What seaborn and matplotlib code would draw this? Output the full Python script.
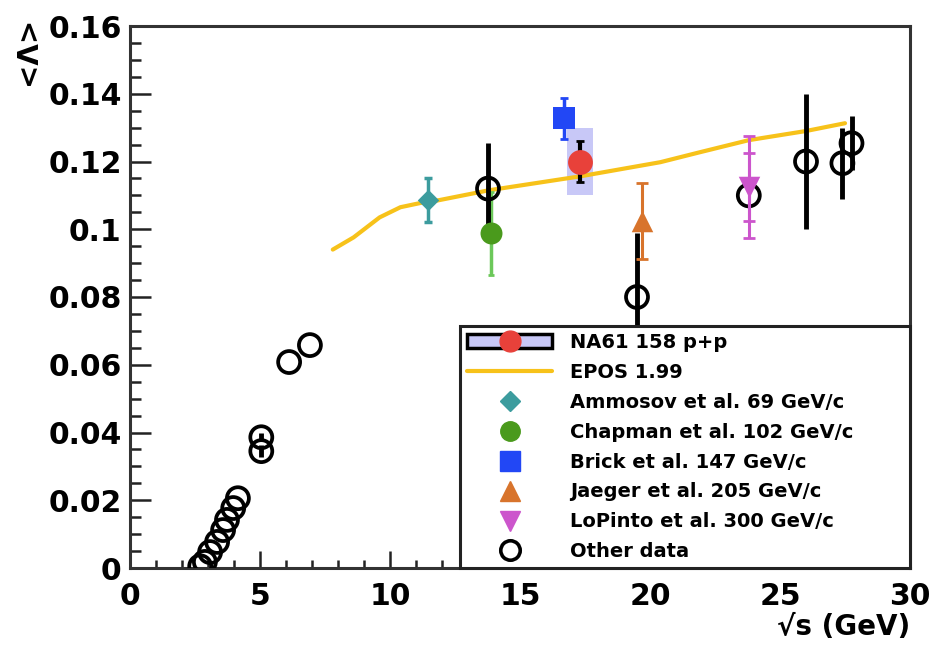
import numpy as np
import pandas as pd
import matplotlib
matplotlib.use("Agg")
import matplotlib.pyplot as plt
from matplotlib.lines import Line2D
from matplotlib.patches import Rectangle
from matplotlib.ticker import MultipleLocator, FixedLocator, FixedFormatter
import seaborn as sns

# ---------------- data ----------------
na61_x = [17.3]
na61_y = [0.120]
na61_stat = [0.006]
na61_sys = [0.010]

epos_x = [7.8, 8.6, 9.6, 10.4, 11.2, 11.5, 13.8, 17.3, 20.4, 21.9, 23.8, 26.0, 27.5]
epos_y = [0.094, 0.0976, 0.1035, 0.1065, 0.1078, 0.108, 0.1115, 0.1156, 0.1198, 0.1227, 0.1263, 0.129, 0.1313]

ammosov_x = [11.46]
ammosov_y = [0.1086]
ammosov_err = [0.0065]

chapman_x = [13.9]
chapman_y = [0.0988]
chapman_err = [0.0122]

brick_x = [16.7]
brick_y = [0.1327]
brick_err = [0.006]

jaeger_x = [19.7]
jaeger_y = [0.1025]
jaeger_err = [0.0112]

lopinto_x = [23.8]
lopinto_y = [0.1124]
lopinto_stat = [0.010]
lopinto_tot = [0.015]

other_x = [2.7, 2.88, 3.08, 3.35, 3.58, 3.73, 3.97, 4.15, 5.05, 5.05, 6.12, 6.92,
           13.77, 19.5, 23.8, 26.0, 27.4, 27.75]
other_y = [0.0005, 0.0018, 0.0047, 0.0077, 0.0112, 0.0142, 0.0177, 0.0206, 0.0386, 0.0345, 0.0608, 0.0658,
           0.112, 0.080, 0.110, 0.120, 0.1195, 0.1254]
other_err = [0, 0, 0, 0, 0, 0, 0, 0, 0.0012, 0.0018, 0, 0,
             0.0135, 0.019, 0.0, 0.020, 0.0105, 0.008]

xticks = [0, 5, 10, 15, 20, 25, 30]
xtick_labels = ["0", "5", "10", "15", "20", "25", "30"]
yticks = [0, 0.02, 0.04, 0.06, 0.08, 0.1, 0.12, 0.14, 0.16]
ytick_labels = ["0", "0.02", "0.04", "0.06", "0.08", "0.1", "0.12", "0.14", "0.16"]

legend_labels = ["NA61 158 p+p", "EPOS 1.99", "Ammosov et al. 69 GeV/c", "Chapman et al. 102 GeV/c",
                 "Brick et al. 147 GeV/c", "Jaeger et al. 205 GeV/c", "LoPinto et al. 300 GeV/c",
                 "Other data"]

# ---------------- style ----------------
sns.set_style("white")
plt.rcParams['font.family'] = ['DejaVu Sans']
plt.rcParams['font.weight'] = 'bold'

C_RED = "#e8413a"
C_BOX = "#c8c8f7"
C_EPOS = "#f7c21a"
C_TEAL = "#3c9c9e"
C_GREEN = "#4a9a1c"
C_GREEN_BAR = "#6cc85a"
C_BLUE = "#2247f5"
C_ORANGE = "#d8742c"
C_MAG = "#cc55cc"

fig = plt.figure(figsize=(9.35, 6.52), dpi=100)
ax = fig.add_axes([130 / 935, 1 - 568 / 652, 780 / 935, 542 / 652])

# NA61 systematic box
for x, y, s in zip(na61_x, na61_y, na61_sys):
    ax.fill_between([x - 0.5, x + 0.5], y - s, y + s, color=C_BOX, lw=0, zorder=1)

# EPOS line
epos_df = pd.DataFrame({"x": epos_x, "y": epos_y})
sns.lineplot(data=epos_df, x="x", y="y", ax=ax, color=C_EPOS, lw=3, zorder=2, sort=True)

# colored error bars (under the black ones)
ax.errorbar(chapman_x, chapman_y, yerr=chapman_err, fmt='none', ecolor=C_GREEN_BAR, elinewidth=2.5,
            capsize=2, capthick=2, zorder=2.5)

# Other data
ax.errorbar(other_x, other_y, yerr=other_err, fmt='none', ecolor='black', elinewidth=3.5, zorder=3)
other_df = pd.DataFrame({"x": other_x, "y": other_y})
sns.scatterplot(data=other_df, x="x", y="y", ax=ax, marker='o', s=250, facecolor='none',
                edgecolor='black', linewidth=2.7, zorder=4)

# colored data
ax.errorbar(ammosov_x, ammosov_y, yerr=ammosov_err, fmt='none', ecolor=C_TEAL, elinewidth=2.5,
            capsize=3, capthick=2.5, zorder=5)
sns.scatterplot(x=ammosov_x, y=ammosov_y, ax=ax, marker='D', s=120, color=C_TEAL, linewidth=0, zorder=6)

sns.scatterplot(x=chapman_x, y=chapman_y, ax=ax, marker='o', s=250, color=C_GREEN, linewidth=0, zorder=6)

ax.errorbar(brick_x, brick_y, yerr=brick_err, fmt='none', ecolor=C_BLUE, elinewidth=2.5,
            capsize=3, capthick=2, zorder=5)
sns.scatterplot(x=brick_x, y=brick_y, ax=ax, marker='s', s=240, color=C_BLUE, linewidth=0, zorder=6)

ax.errorbar(jaeger_x, jaeger_y, yerr=jaeger_err, fmt='none', ecolor=C_ORANGE, elinewidth=2.2,
            capsize=4, capthick=2, zorder=5)
sns.scatterplot(x=jaeger_x, y=jaeger_y, ax=ax, marker='^', s=240, color=C_ORANGE, linewidth=0, zorder=6)

ax.errorbar(lopinto_x, lopinto_y, yerr=lopinto_tot, fmt='none', ecolor=C_MAG, elinewidth=2.2,
            capsize=4, capthick=2, zorder=5)
ax.errorbar(lopinto_x, lopinto_y, yerr=lopinto_stat, fmt='none', ecolor=C_MAG, elinewidth=2.2,
            capsize=4, capthick=2, zorder=5)
sns.scatterplot(x=lopinto_x, y=lopinto_y, ax=ax, marker='v', s=240, color=C_MAG, linewidth=0, zorder=6)

# NA61 point
ax.errorbar(na61_x, na61_y, yerr=na61_stat, fmt='none', ecolor='black', elinewidth=3,
            capsize=3, capthick=2, zorder=7)
sns.scatterplot(x=na61_x, y=na61_y, ax=ax, marker='o', s=320, color=C_RED, linewidth=0, zorder=8)

# ---------------- axes ----------------
ax.set_xlim(0, 30)
ax.set_ylim(0, 0.16)
ax.xaxis.set_major_locator(FixedLocator(xticks))
ax.xaxis.set_major_formatter(FixedFormatter(xtick_labels))
ax.yaxis.set_major_locator(FixedLocator(yticks))
ax.yaxis.set_major_formatter(FixedFormatter(ytick_labels))
ax.xaxis.set_minor_locator(MultipleLocator(1))
ax.yaxis.set_minor_locator(MultipleLocator(0.005))
ax.tick_params(axis='both', which='both', direction='in', color='#222222', labelcolor='black',
               width=1.8, bottom=True, left=True, top=False, right=False, labelsize=21.5)
ax.tick_params(axis='y', which='major', length=15, pad=6)
ax.tick_params(axis='y', which='minor', length=8)
ax.tick_params(axis='x', which='major', length=12, pad=10)
ax.tick_params(axis='x', which='minor', length=6)
for lab in ax.get_xticklabels() + ax.get_yticklabels():
    lab.set_fontweight('bold')
for sp in ax.spines.values():
    sp.set_visible(True)
    sp.set_linewidth(2.2)
    sp.set_color('#333333')

ax.set_xlabel("√s (GeV)", fontsize=20, fontweight='bold', ha='right', va='center', color='black')
ax.xaxis.set_label_coords(1.0, -0.109)
ax.set_ylabel("<Λ>", fontsize=20, fontweight='bold', va='center', ha='center', color='black')
ax.yaxis.set_label_coords(-0.131, 0.955)

# ---------------- legend ----------------
h_na61 = (Rectangle((0, 0), 1, 1, facecolor=C_BOX, edgecolor='black', lw=2.5),
          Line2D([], [], marker='o', color=C_RED, ls='none', ms=15))
h_epos = Line2D([], [], color=C_EPOS, lw=3)
h_amm = Line2D([], [], marker='D', color=C_TEAL, ls='none', ms=10)
h_chap = Line2D([], [], marker='o', color=C_GREEN, ls='none', ms=14)
h_brick = Line2D([], [], marker='s', color=C_BLUE, ls='none', ms=14)
h_jae = Line2D([], [], marker='^', color=C_ORANGE, ls='none', ms=14)
h_lop = Line2D([], [], marker='v', color=C_MAG, ls='none', ms=14)
h_oth = Line2D([], [], marker='o', mfc='none', mec='black', mew=2.6, ls='none', ms=14)

handles = [h_na61, h_epos, h_amm, h_chap, h_brick, h_jae, h_lop, h_oth]
leg = ax.legend(handles, legend_labels, loc='lower left', bbox_to_anchor=(0.423, 0.0, 0.577, 0.45),
                mode='expand', borderaxespad=0, frameon=True, fancybox=False,
                framealpha=1, edgecolor='#222222', handlelength=4.4, handletextpad=0.9,
                labelspacing=0.56, borderpad=0.35, prop={'weight': 'bold', 'size': 14})
leg.get_frame().set_linewidth(2.2)
leg.set_zorder(20)
for t in leg.get_texts():
    t.set_color('black')

fig.savefig("out.png", dpi=100)
